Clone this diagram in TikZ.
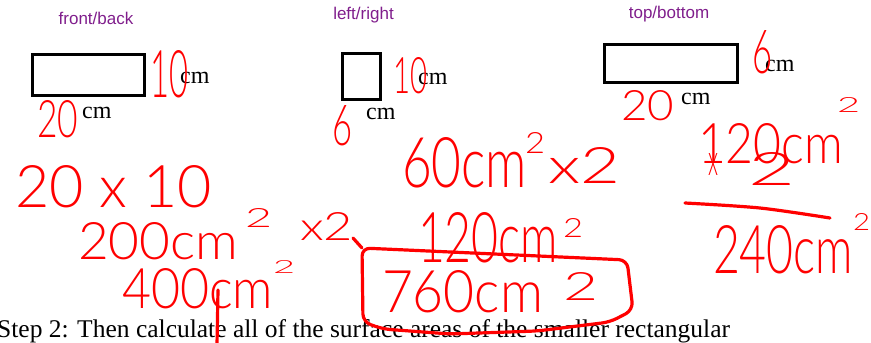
\documentclass[tikz,border=0pt]{standalone}
\usepackage{fontspec}
\usepackage{graphicx}
\setmainfont{Liberation Serif}
\newfontfamily\labfont{Liberation Sans}
\IfFontExistsTF{Lato Light}{\newfontfamily\hand{Lato Light}}{\newfontfamily\hand{Lato}}
\definecolor{hred}{RGB}{255,0,0}
\definecolor{lab}{RGB}{128,30,140}
\newcommand{\hw}[3]{\resizebox{#1pt}{#2pt}{\hand #3}}
\tikzset{
  hwn/.style={text=hred, inner sep=0pt, outer sep=0pt, anchor=north west},
  lbl/.style={text=lab, font=\labfont\fontsize{17}{20}\selectfont, anchor=base, inner sep=0pt},
  cmt/.style={font=\fontsize{24}{28}\selectfont, anchor=base west, inner sep=0pt},
  steptext/.style={font=\fontsize{25.5}{30}\selectfont, anchor=base west, inner sep=0pt},
  shapebox/.style={draw=black, line width=3pt},
  ink/.style={draw=hred, line width=3.2pt, line cap=round, line join=round}
}
\begin{document}
\begin{tikzpicture}[x=1pt,y=-1pt]
\useasboundingbox (0,0) rectangle (871,343);
% labels
\node[lbl] (l1) at (96,24) {front/back};
\node[lbl] (l2) at (363.5,19) {left/right};
\node[lbl] (l3) at (669,18) {top/bottom};
% rectangles
\draw[shapebox] (32.5,54.5) rectangle (144.5,95.5);
\draw[shapebox] (342.5,53.5) rectangle (380.5,99.5);
\draw[shapebox] (604.5,44.5) rectangle (737.5,82.5);
% printed cm
\node[cmt] (c1) at (180,83) {cm};
\node[cmt] (c2) at (82,118) {cm};
\node[cmt] (c3) at (418,84) {cm};
\node[cmt] (c4) at (366,119) {cm};
\node[cmt] (c5) at (765,71) {cm};
\node[cmt] (c6) at (681,104) {cm};
% step text
\node[steptext] (st) at (-3,337) {Step 2: Then calculate all of the surface areas of the smaller rectangular};
% handwriting
\node[hwn] (h1) at (150,50) {\hw{38}{47}{10}};
\node[hwn] (h2) at (37,100) {\hw{41}{37}{20}};
\node[hwn] (h3) at (393,57) {\hw{34}{36}{10}};
\node[hwn] (h4) at (332,105) {\hw{20}{40}{6}};
\node[hwn] (h5) at (752,30) {\hw{20}{43}{6}};
\node[hwn] (h6) at (621,90) {\hw{53}{30}{20}};
\node[hwn] (h7) at (15,165) {\hw{197}{42}{20 x 10}};
\node[hwn] (h8) at (78,222) {\hw{160}{37}{200cm}};
\node[hwn] (h8s) at (245,208) {\hw{27}{19}{2}};
\node[hwn] (h8x) at (300,212) {\hw{53}{28}{x2}};
\node[hwn] (h9) at (122,268) {\hw{151}{40}{400cm}};
\node[hwn] (h9s) at (273,260) {\hw{22}{13}{2}};
\node[hwn] (h10) at (402,137) {\hw{125}{50}{60cm}};
\node[hwn] (h10s) at (525,132) {\hw{20}{21}{2}};
\node[hwn] (h10x) at (548,147) {\hw{72}{36}{x2}};
\node[hwn] (h11) at (418,212) {\hw{140}{50}{120cm}};
\node[hwn] (h11s) at (563,218) {\hw{20}{19}{2}};
\node[hwn] (h12) at (382,270) {\hw{161}{42}{760cm}};
\node[hwn] (h12s) at (563,272) {\hw{35}{28}{2}};
\node[hwn] (h13) at (698,123) {\hw{145}{40}{120cm}};
\node[hwn] (h13s) at (837,97) {\hw{23}{15}{2}};
\node[hwn] (h13x) at (708,153) {\hw{10}{22}{x}};
\node[hwn] (h13t) at (748,152) {\hw{47}{33}{2}};
\node[hwn] (h14) at (713,225) {\hw{140}{48}{240cm}};
\node[hwn] (h14s) at (853,213) {\hw{17}{17}{2}};
% strokes
\coordinate (tailA) at (353,238);
\coordinate (tailB) at (362,248);
\draw[ink] (tailA) -- (tailB);
\draw[ink, rounded corners=8pt] (362,248) -- (627,260) -- (633,310) -- (610,322) -- (537,331) -- (450,334) -- (383,329) -- (363,322) -- cycle;
\coordinate (cA) at (218,290);
\coordinate (cB) at (217,345);
\draw[ink] (cA) -- (cB);
\draw[ink] plot[smooth] coordinates {(685,203) (760,208) (830,218)};
\end{tikzpicture}
\end{document}
